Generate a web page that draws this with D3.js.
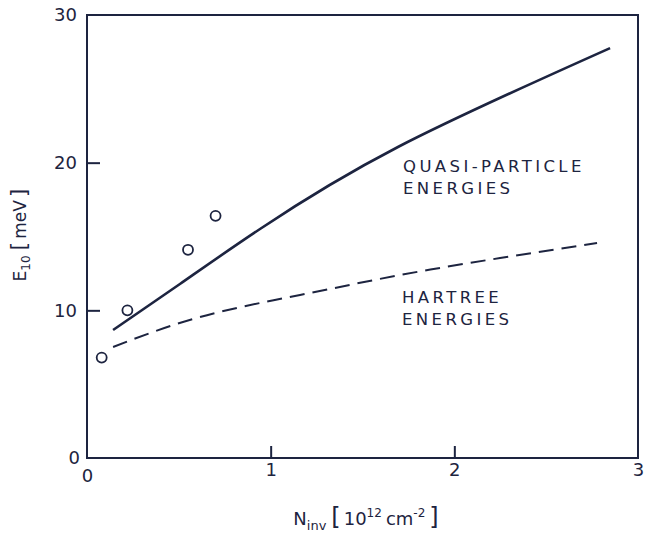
<!DOCTYPE html>
<html>
<head>
<meta charset="utf-8">
<script src="https://cdn.jsdelivr.net/npm/d3@7"></script>
<style>
  html, body { margin: 0; padding: 0; background: #ffffff; }
  svg { display: block; }
  text { font-family: "DejaVu Sans", sans-serif; fill: #1d2440; }
</style>
</head>
<body>
<svg id="chart" width="645" height="533"></svg>
<script>
// Inversion-layer subband spacing E10 versus carrier density
const quasiN = [0.142, 0.506, 0.942, 1.693, 2.848];
const quasiE = [8.67, 11.78, 15.51, 21.06, 27.76];

const hartreeN = [0.142, 0.615, 1.160, 1.704, 2.249, 2.777];
const hartreeE = [7.52, 9.55, 11.04, 12.39, 13.54, 14.56];

const measN = [0.08, 0.22, 0.55, 0.70];
const measE = [6.8, 10.0, 14.1, 16.4];

const xTicks = [0, 1, 2, 3];
const yTicks = [0, 10, 20, 30];

const ink = "#1d2440";
const svg = d3.select("#chart");

const x = d3.scaleLinear().domain([0, 3]).range([87, 638]);
const y = d3.scaleLinear().domain([0, 30]).range([458, 15]);

// frame
svg.append("rect")
  .attr("x", x(0)).attr("y", y(30))
  .attr("width", x(3) - x(0)).attr("height", y(0) - y(30))
  .attr("fill", "none").attr("stroke", ink).attr("stroke-width", 2);

// bottom axis, ticks pointing inward
const gx = svg.append("g")
  .attr("transform", `translate(0,${y(0)})`)
  .call(d3.axisBottom(x).tickValues(xTicks).tickFormat(d3.format("d"))
    .tickSizeInner(-12).tickSizeOuter(0).tickPadding(5));
gx.select(".domain").remove();
gx.selectAll(".tick line")
  .attr("stroke", ink).attr("stroke-width", 2)
  .attr("display", d => (d === 0 || d === 3) ? "none" : null);
gx.selectAll(".tick text")
  .attr("font-size", 18).attr("font-family", "DejaVu Sans, sans-serif").attr("fill", ink)
  .attr("y", d => d === 0 ? 11 : 5);

// left axis, ticks pointing inward
const gy = svg.append("g")
  .attr("transform", `translate(${x(0)},0)`)
  .call(d3.axisLeft(y).tickValues(yTicks).tickFormat(d3.format("d"))
    .tickSizeInner(-13).tickSizeOuter(0).tickPadding(10));
gy.select(".domain").remove();
gy.selectAll(".tick line")
  .attr("stroke", ink).attr("stroke-width", 2)
  .attr("display", d => (d === 0 || d === 30) ? "none" : null);
gy.selectAll(".tick text")
  .attr("font-size", 18).attr("font-family", "DejaVu Sans, sans-serif").attr("fill", ink)
  .attr("x", d => d === 0 ? -7 : -10);

// curves
const line = d3.line()
  .x(d => x(d[0])).y(d => y(d[1]))
  .curve(d3.curveNatural);

svg.append("path")
  .datum(d3.zip(quasiN, quasiE))
  .attr("d", line)
  .attr("fill", "none").attr("stroke", ink).attr("stroke-width", 2.6);

svg.append("path")
  .datum(d3.zip(hartreeN, hartreeE))
  .attr("d", line)
  .attr("fill", "none").attr("stroke", ink).attr("stroke-width", 2)
  .attr("stroke-dasharray", "15 8");

// measured points
svg.selectAll("circle.meas")
  .data(d3.zip(measN, measE))
  .join("circle")
  .attr("class", "meas")
  .attr("cx", d => x(d[0])).attr("cy", d => y(d[1]))
  .attr("r", 5)
  .attr("fill", "none").attr("stroke", ink).attr("stroke-width", 1.8);

// curve labels
const lab = svg.append("g")
  .attr("font-size", 16.5).attr("letter-spacing", 3.4);
lab.append("text").attr("x", 403).attr("y", 172).text("QUASI-PARTICLE");
lab.append("text").attr("x", 403).attr("y", 194).text("ENERGIES");
lab.append("text").attr("x", 402).attr("y", 303).text("HARTREE");
lab.append("text").attr("x", 402).attr("y", 325).text("ENERGIES");

// x axis title
const xt = svg.append("text")
  .attr("x", 366).attr("y", 525)
  .attr("text-anchor", "middle").attr("font-size", 18);
xt.append("tspan").text("N");
xt.append("tspan").attr("font-size", 13).attr("dy", 5).text("inv");
xt.append("tspan").attr("dy", -5).attr("font-size", 24).attr("dx", 5).text("[");
xt.append("tspan").attr("dx", 3).text("10");
xt.append("tspan").attr("font-size", 12).attr("dy", -8).text("12");
xt.append("tspan").attr("dy", 8).attr("dx", 4).text("cm");
xt.append("tspan").attr("font-size", 12).attr("dy", -8).text("-2");
xt.append("tspan").attr("dy", 8).attr("dx", 4).attr("font-size", 24).text("]");

// y axis title
const yt = svg.append("text")
  .attr("transform", "translate(26,235) rotate(-90)")
  .attr("text-anchor", "middle").attr("font-size", 17);
yt.append("tspan").text("E");
yt.append("tspan").attr("font-size", 12).attr("dy", 4).text("10");
yt.append("tspan").attr("dy", -4).attr("dx", 5).attr("font-size", 22).text("[");
yt.append("tspan").attr("dx", 3).text("meV");
yt.append("tspan").attr("dx", 3).attr("font-size", 22).text("]");
</script>
</body>
</html>
